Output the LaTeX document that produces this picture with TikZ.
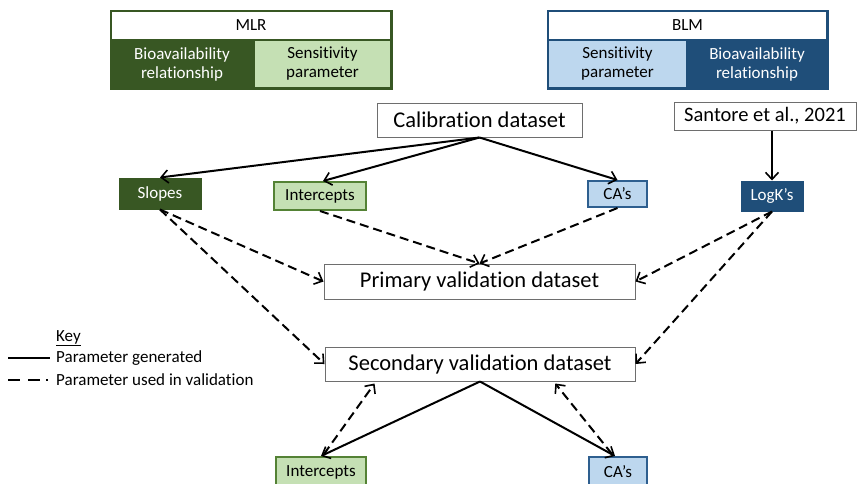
\documentclass[tikz,border=0pt]{standalone}
\usepackage{fontspec}
\setmainfont[Ligatures=NoCommon]{Carlito}
\usetikzlibrary{arrows.meta,calc}
\definecolor{dgreen}{HTML}{385723}
\definecolor{lgreen}{HTML}{C5E0B4}
\definecolor{mgreen}{HTML}{548235}
\definecolor{dblue}{HTML}{1F4E79}
\definecolor{lblue}{HTML}{BDD7EE}
\definecolor{mblue}{HTML}{2E5F8F}
\definecolor{gborder}{HTML}{6E6E6E}
\tikzset{
  base/.style={inner sep=0pt, align=center, font=\fontsize{17}{19}\selectfont},
  bigbox/.style={base, draw=gborder, line width=1pt, fill=white, font=\fontsize{22.5}{26}\selectfont},
  dgbox/.style={base, fill=dgreen, draw=dgreen, line width=1pt, text=white},
  lgbox/.style={base, fill=lgreen, draw=mgreen, line width=2pt},
  dbbox/.style={base, fill=dblue, draw=dblue, line width=1pt, text=white},
  lbbox/.style={base, fill=lblue, draw=mblue, line width=2pt},
  gen/.style={line width=2pt, -{Straight Barb[length=7pt,width=13pt,line width=1.6pt]}},
  val/.style={line width=2pt, dash pattern=on 9pt off 5pt, -{Straight Barb[length=7pt,width=13pt,line width=1.6pt]}},
  keytext/.style={base, anchor=west, font=\fontsize{17}{19}\selectfont}
}
\begin{document}
\begin{tikzpicture}[x=1pt,y=-1pt]
\useasboundingbox (0,0) rectangle (862,483);
\clip (0,0) rectangle (862,483);
% MLR table
\node[dgbox, minimum width=282pt, minimum height=79pt, line width=0pt] (mlr) at (251,49.5) {};
\node[base, fill=white, minimum width=278pt, minimum height=27pt] (mlrh) at (251,25.5) {MLR};
\node[base, fill=lgreen, minimum width=135pt, minimum height=46pt] (mlrs) at (322.5,64) {Sensitivity\\parameter};
\node[base, text=white] (mlrb) at (182,64.5) {Bioavailability\\relationship};
% BLM table
\node[dbbox, minimum width=281pt, minimum height=79pt, line width=0pt] (blm) at (687.5,49.5) {};
\node[base, fill=white, minimum width=277pt, minimum height=27pt] (blmh) at (687.5,25.5) {BLM};
\node[base, fill=lblue, minimum width=137pt, minimum height=46pt] (blms) at (617.5,64) {Sensitivity\\parameter};
\node[base, text=white] (blmb) at (757,64.5) {Bioavailability\\relationship};
% main boxes
\node[bigbox, minimum width=205pt, minimum height=34pt] (cal) at (479.5,120) {Calibration dataset};
\node[bigbox, minimum width=182pt, minimum height=28pt, font=\fontsize{20.5}{24}\selectfont] (san) at (765,116) {Santore et al., 2021};
\node[dgbox, minimum width=82pt, minimum height=31pt] (slo) at (160,193.5) {Slopes};
\node[lgbox, minimum width=92pt, minimum height=28pt] (int) at (320,196) {Intercepts};
\node[lbbox, minimum width=59pt, minimum height=26pt] (ca) at (617.5,194) {CA’s};
\node[dbbox, minimum width=62pt, minimum height=30pt] (logk) at (772,196) {LogK’s};
\node[bigbox, minimum width=311pt, minimum height=35pt] (prim) at (479.5,281.5) {Primary validation dataset};
\node[bigbox, minimum width=310pt, minimum height=34pt] (sec) at (480,364) {Secondary validation dataset};
\node[lgbox, minimum width=90pt, minimum height=30pt] (int2) at (321,472) {Intercepts};
\node[lbbox, minimum width=58pt, minimum height=30pt] (ca2) at (618,472) {CA’s};
% generated
\draw[gen] (cal.south) -- (slo.north);
\draw[gen] (cal.south) -- ($(int.north)+(3,0)$);
\draw[gen] (cal.south) -- (ca.north);
\draw[gen] (san.south -| logk.north) -- (logk.north);
\draw[gen] (sec.south) -- (int2.north);
\draw[gen] (sec.south) -- ($(ca2.north)+(-3,0)$);
% validation
\draw[val] (slo.south) -- (prim.west);
\draw[val] (slo.south) -- (sec.west);
\draw[val] (int.south) -- (prim.north);
\draw[val] (ca.south) -- (prim.north);
\draw[val] (logk.south) -- (prim.east);
\draw[val] (logk.south) -- (sec.east);
\draw[val] ($(int2.north)+(3,-2)$) -- ($(sec.south west)!0.161!(sec.south east)+(0,2)$);
\draw[val] ($(ca2.north)+(-6,-2)$) -- ($(sec.south west)!0.742!(sec.south east)+(0,2)$);
% key
\node[keytext] (keyt) at (56,338) {\underline{Key}};
\node[keytext] (k1) at (56,358) {Parameter generated};
\node[keytext] (k2) at (56,380) {Parameter used in validation};
\coordinate (k1s) at (8,358);
\coordinate (k2s) at (8,380);
\draw[line width=2pt] (k1s) -- ($(k1.west)+(-6,0)$);
\draw[line width=2.2pt, dash pattern=on 12pt off 8pt on 12pt off 6pt on 1.5pt off 20pt] (k2s) -- ($(k2.west)+(-6,0)$);
\end{tikzpicture}
\end{document}
